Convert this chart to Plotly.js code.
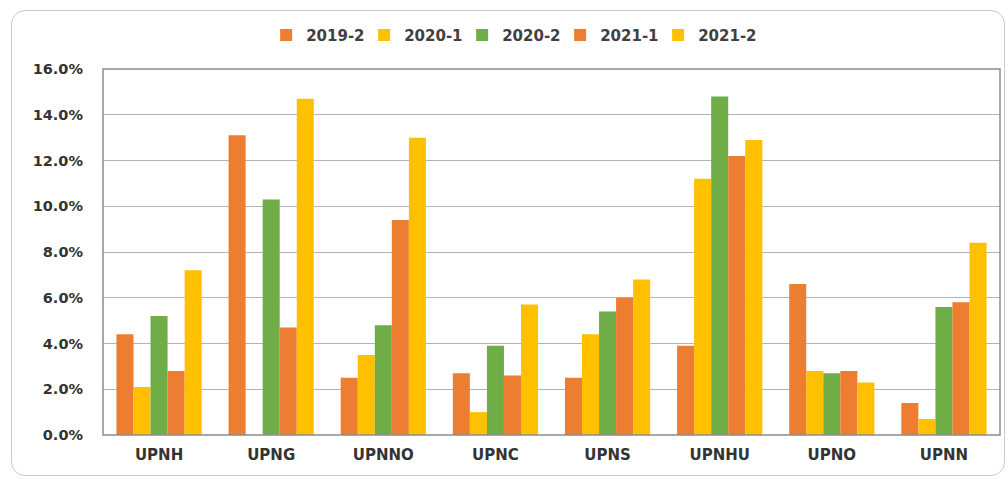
<!DOCTYPE html>
<html>
<head>
<meta charset="utf-8">
<script src="https://cdn.plot.ly/plotly-3.0.1.min.js"></script>
<style>
  html, body { margin: 0; padding: 0; background: #ffffff; }
  #wrap { position: relative; width: 1008px; height: 479px; }
  #chart { width: 1008px; height: 479px; }
  #frame { position: absolute; left: 11px; top: 10px; width: 994px; height: 466px;
           border: 1px solid #c9c9c9; border-radius: 14px; pointer-events: none; box-sizing: border-box; }
</style>
</head>
<body>
<div id="wrap">
  <div id="chart"></div>
  <div id="frame"></div>
</div>
<script>
const categories = ['UPNH', 'UPNG', 'UPNNO', 'UPNC', 'UPNS', 'UPNHU', 'UPNO', 'UPNN'];
const seriesNames = ['2019-2', '2020-1', '2020-2', '2021-1', '2021-2'];
const s2019_2 = [4.4, 13.1, 2.5, 2.7, 2.5, 3.9, 6.6, 1.4];
const s2020_1 = [2.1, 0.0, 3.5, 1.0, 4.4, 11.2, 2.8, 0.7];
const s2020_2 = [5.2, 10.3, 4.8, 3.9, 5.4, 14.8, 2.7, 5.6];
const s2021_1 = [2.8, 4.7, 9.4, 2.6, 6.0, 12.2, 2.8, 5.8];
const s2021_2 = [7.2, 14.7, 13.0, 5.7, 6.8, 12.9, 2.3, 8.4];
const yTicks = [0, 2, 4, 6, 8, 10, 12, 14, 16];

const seriesValues = [s2019_2, s2020_1, s2020_2, s2021_1, s2021_2];
const colors = ['#ED7D31', '#FFC000', '#70AD47', '#ED7D31', '#FFC000'];

const traces = seriesNames.map((name, i) => ({
  type: 'bar',
  name: name,
  x: categories,
  y: seriesValues[i],
  marker: { color: colors[i], line: { width: 0 } },
  hoverinfo: 'x+y+name'
}));

const layout = {
  width: 1008,
  height: 479,
  margin: { l: 103, r: 8, t: 69, b: 44 },
  paper_bgcolor: '#ffffff',
  plot_bgcolor: '#ffffff',
  font: { family: 'DejaVu Sans, sans-serif', size: 14, color: '#404040' },
  barmode: 'group',
  bargap: 0.24,
  bargroupgap: 0,
  showlegend: true,
  legend: {
    orientation: 'h',
    x: 0.455, xanchor: 'center',
    y: 1.092, yanchor: 'middle',
    font: { family: 'DejaVu Sans, sans-serif', size: 15, color: '#404040', weight: 'bold' },
    itemwidth: 30,
    entrywidth: 53,
    traceorder: 'normal'
  },
  xaxis: {
    type: 'category',
    showgrid: false,
    showline: false,
    zeroline: false,
    ticks: '',
    tickfont: { family: 'DejaVu Sans, sans-serif', size: 15, color: '#333333', weight: 'bold' },
    ticklabelstandoff: 9
  },
  yaxis: {
    range: [0, 16],
    tickvals: yTicks,
    ticktext: yTicks.map(v => v.toFixed(1) + '%'),
    showgrid: true,
    gridcolor: '#b4b4b4',
    gridwidth: 1,
    zeroline: false,
    showline: false,
    ticks: '',
    tickfont: { family: 'DejaVu Sans, sans-serif', size: 14.5, color: '#333333', weight: 'bold' },
    ticklabelstandoff: 19
  },
  shapes: [
    { type: 'rect', xref: 'paper', yref: 'paper', x0: 0, x1: 1, y0: 0, y1: 1,
      line: { color: '#8c8c8c', width: 1.5 }, fillcolor: 'rgba(0,0,0,0)', layer: 'above' }
  ]
};

Plotly.newPlot('chart', traces, layout, { displayModeBar: false, staticPlot: true });
</script>
</body>
</html>
